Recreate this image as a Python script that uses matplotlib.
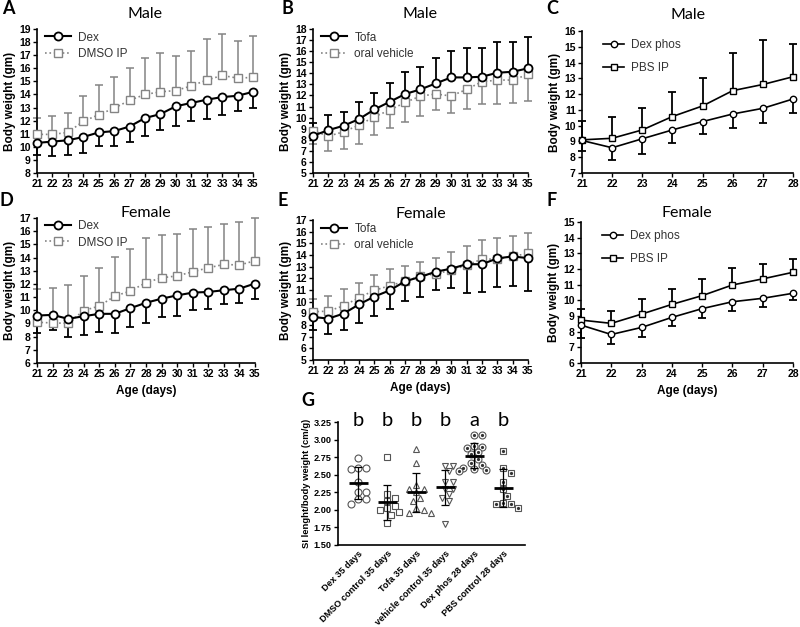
import numpy as np
import matplotlib.pyplot as plt

plt.rcParams['font.family'] = ['Liberation Sans', 'DejaVu Sans']

# ======= Data =======

days_35 = np.arange(21, 36)
days_28 = np.arange(21, 29)

# A: male, Dex vs DMSO IP
a_dex = [10.3, 10.4, 10.5, 10.75, 11.1, 11.2, 11.55, 12.2, 12.5, 13.1, 13.35, 13.6, 13.8, 13.9, 14.2]
a_dex_sd = [0.9, 1.1, 1.1, 1.25, 1.05, 1.1, 1.2, 1.35, 1.25, 1.5, 1.4, 1.45, 1.4, 1.2, 1.25]
a_dmso = [10.95, 10.95, 11.1, 11.95, 12.45, 12.95, 13.55, 14.0, 14.2, 14.3, 14.65, 15.1, 15.45, 15.25, 15.3]
a_dmso_sd = [1.25, 1.4, 1.5, 1.9, 2.25, 2.35, 2.5, 2.75, 2.95, 2.6, 2.7, 3.1, 3.15, 2.8, 3.2]

# B: male, Tofa vs oral vehicle
b_tofa = [8.36, 8.87, 9.27, 9.87, 10.74, 11.43, 12.13, 12.55, 13.09, 13.63, 13.63, 13.69, 14.05, 14.14, 14.45]
b_tofa_sd = [1.12, 1.36, 1.26, 1.56, 1.51, 1.66, 2.01, 2.05, 2.26, 2.41, 2.68, 2.62, 2.81, 2.72, 2.8]
b_veh = [8.81, 8.33, 8.72, 9.33, 10.08, 10.68, 11.37, 11.95, 12.13, 11.95, 12.55, 13.24, 13.39, 13.39, 13.9]
b_veh_sd = [1.23, 1.33, 1.59, 1.72, 1.66, 1.66, 1.74, 1.78, 1.45, 1.57, 1.81, 2.02, 2.17, 2.11, 2.41]

# C: male, Dex phos vs PBS IP
c_dexp = [9.06, 8.6, 9.17, 9.73, 10.26, 10.74, 11.1, 11.69]
c_dexp_sd = [0.69, 0.8, 0.95, 0.8, 0.78, 0.9, 0.95, 0.9]
c_pbs = [9.1, 9.2, 9.73, 10.58, 11.25, 12.22, 12.61, 13.1]
c_pbs_sd = [1.22, 1.38, 1.37, 1.53, 1.74, 2.41, 2.8, 2.1]

# D: female, Dex vs DMSO IP
d_dex = [9.6, 9.65, 9.35, 9.55, 9.73, 9.73, 10.16, 10.57, 10.88, 11.13, 11.34, 11.39, 11.52, 11.64, 12.03]
d_dex_sd = [1.32, 1.12, 1.35, 1.4, 1.4, 1.48, 1.45, 1.53, 1.41, 1.53, 1.3, 1.28, 1.08, 1.09, 1.15]
d_dmso = [9.09, 9.04, 9.01, 9.98, 10.32, 11.08, 11.46, 12.1, 12.46, 12.61, 12.92, 13.22, 13.48, 13.43, 13.76]
d_dmso_sd = [2.5, 2.66, 2.89, 2.63, 2.9, 2.99, 3.17, 3.37, 3.26, 3.17, 3.26, 3.09, 3.06, 3.26, 3.24]

# E: female, Tofa vs oral vehicle
e_tofa = [8.69, 8.55, 8.98, 9.77, 10.44, 10.97, 11.75, 12.13, 12.57, 12.83, 13.21, 13.21, 13.71, 13.88, 13.73]
e_tofa_sd = [1.08, 1.32, 1.4, 1.6, 1.69, 1.64, 1.66, 1.75, 1.55, 1.66, 2.48, 2.39, 2.48, 2.57, 2.85]
e_veh = [9.13, 9.19, 9.65, 10.35, 10.97, 11.37, 11.75, 12.19, 12.39, 12.69, 13.12, 13.65, 13.65, 13.88, 14.14]
e_veh_sd = [1.11, 1.31, 1.43, 1.26, 1.28, 1.46, 1.31, 1.22, 1.34, 1.6, 1.61, 1.66, 1.8, 1.75, 1.75]

# F: female, Dex phos vs PBS IP
f_dexp = [8.42, 7.82, 8.27, 8.91, 9.47, 9.91, 10.13, 10.45]
f_dexp_sd = [0.82, 0.58, 0.6, 0.56, 0.62, 0.59, 0.53, 0.43]
f_pbs = [8.74, 8.53, 9.12, 9.74, 10.3, 10.98, 11.37, 11.79]
f_pbs_sd = [0.68, 0.81, 0.97, 0.99, 1.05, 1.07, 0.96, 0.86]

# G: SI length / body weight
g_groups = ["Dex 35 days", "DMSO control 35 days", "Tofa 35 days",
            "vehicle control 35 days", "Dex phos 28 days", "PBS control 28 days"]
g_letters = ["b", "b", "b", "b", "a", "b"]
g_dex = [2.74, 2.60, 2.59, 2.58, 2.40, 2.26, 2.25, 2.16, 2.15, 2.09]
g_dmso = [2.75, 2.22, 2.17, 2.12, 2.05, 2.02, 2.00, 1.97, 1.93, 1.82]
g_tofa = [2.86, 2.67, 2.35, 2.30, 2.29, 2.25, 2.17, 2.13, 2.03, 2.00, 1.96, 1.96]
g_veh = [2.63, 2.63, 2.55, 2.40, 2.40, 2.30, 2.30, 2.22, 2.17, 2.12, 1.80]
g_dexp = [3.07, 3.07, 2.91, 2.90, 2.88, 2.82, 2.79, 2.72, 2.67, 2.64, 2.60, 2.58, 2.56, 2.55]
g_pbs = [2.84, 2.60, 2.53, 2.40, 2.29, 2.20, 2.10, 2.09, 2.08, 2.02]

# ======= Layout helpers =======

W, H = 800, 627
fig = plt.figure(figsize=(8, 6.27), dpi=100)


def box(left, top, right, bottom):
    return [left / W, 1 - bottom / H, (right - left) / W, (bottom - top) / H]


def ftext(x, y, s, **kw):
    fig.text(x / W, 1 - y / H, s, **kw)


BLACK = 'black'
GREY = '#848484'

big_black_o = dict(color=BLACK, ls='-', lw=1.5, marker='o', ms=5.8, mfc='white', mew=1.3)
big_grey_s = dict(color=GREY, ls=':', lw=1.2, marker='s', ms=5.3, mfc='white', mew=1.0)
small_black_o = dict(color=BLACK, ls='-', lw=1.2, marker='o', ms=4.6, mfc='white', mew=1.0)
small_black_s = dict(color=BLACK, ls='-', lw=1.2, marker='s', ms=4.6, mfc='white', mew=1.0)


def sd_bars(ax, x, y, sd, side, color, lw):
    sd = np.asarray(sd)
    zero = np.zeros_like(sd)
    lo, hi = (sd, zero) if side == 'down' else (zero, sd)
    eb = ax.errorbar(x, y, yerr=[lo, hi], fmt='none', ecolor=color,
                     elinewidth=lw, capsize=2.8, capthick=lw, zorder=2)
    eb[1][1 if side == 'down' else 0].set_visible(False)
    for c in list(eb[1]) + list(eb[2]):
        c.set_clip_on(False)


def style_axes(ax, fs=7.5):
    for s in ['top', 'right']:
        ax.spines[s].set_visible(False)
    for s in ['left', 'bottom']:
        ax.spines[s].set_linewidth(1.2)
    ax.tick_params(direction='out', length=3, width=1, labelsize=fs, pad=1.5)
    for lab in ax.get_xticklabels() + ax.get_yticklabels():
        lab.set_fontweight('bold')


def weight_panel(rect, x, s1, s2, labels, styles, sides, ylim, title, legend_kw):
    ax = fig.add_axes(box(*rect))
    (y1, sd1), (y2, sd2) = s1, s2
    st1, st2 = styles
    sd_bars(ax, x, y1, sd1, sides[0], st1['color'], 1.3 if st1['color'] == BLACK else 1.1)
    sd_bars(ax, x, y2, sd2, sides[1], st2['color'], 1.3 if st2['color'] == BLACK else 1.1)
    ax.plot(x, y2, label=labels[1], zorder=3, clip_on=False, **st2)
    ax.plot(x, y1, label=labels[0], zorder=4, clip_on=False, **st1)
    ax.set_xlim(x[0], x[-1])
    ax.set_ylim(*ylim)
    ax.set_xticks(x)
    ax.set_yticks(np.arange(ylim[0], ylim[1] + 1))
    ax.set_ylabel("Body weight (gm)", fontsize=8.5, fontweight='bold', labelpad=2)
    style_axes(ax)
    h, l = ax.get_legend_handles_labels()
    leg = ax.legend(h[::-1], l[::-1], frameon=False, fontsize=8.5, borderpad=0.2,
                    handletextpad=0.6, **legend_kw)
    for t in leg.get_texts():
        t.set_color('#333333')
    cx = (rect[0] + rect[2]) / 2
    ftext(cx, title[1], title[0], fontsize=11.5, family=['Lato', 'DejaVu Sans'],
          ha='center', va='center')
    return ax


leg_top = dict(loc='upper left', bbox_to_anchor=(0.0, 1.04), handlelength=2.2, labelspacing=0.35)
leg_c = dict(loc='upper left', bbox_to_anchor=(0.06, 1.0), handlelength=1.8, labelspacing=0.95)

# A
weight_panel((37, 29, 253, 173), days_35, (a_dex, a_dex_sd), (a_dmso, a_dmso_sd),
             ("Dex", "DMSO IP"), (big_black_o, big_grey_s), ('down', 'up'),
             (8, 19), ("Male", 14), leg_top)
# B
weight_panel((313, 29, 528, 173), days_35, (b_tofa, b_tofa_sd), (b_veh, b_veh_sd),
             ("Tofa", "oral vehicle"), (big_black_o, big_grey_s), ('up', 'down'),
             (5, 18), ("Male", 14), leg_top)
# C
weight_panel((582, 31, 793, 173), days_28, (c_dexp, c_dexp_sd), (c_pbs, c_pbs_sd),
             ("Dex phos", "PBS IP"), (small_black_o, small_black_s), ('down', 'up'),
             (7, 16), ("Male", 15), leg_c)
# D
ax_d = weight_panel((37, 218, 255, 363), days_35, (d_dex, d_dex_sd), (d_dmso, d_dmso_sd),
                    ("Dex", "DMSO IP"), (big_black_o, big_grey_s), ('down', 'up'),
                    (6, 17), ("Female", 213), leg_top)
# E
ax_e = weight_panel((313, 220, 528, 360), days_35, (e_tofa, e_tofa_sd), (e_veh, e_veh_sd),
                    ("Tofa", "oral vehicle"), (big_black_o, big_grey_s), ('down', 'up'),
                    (5, 17), ("Female", 214), leg_top)
# F
ax_f = weight_panel((581, 222, 793, 363), days_28, (f_dexp, f_dexp_sd), (f_pbs, f_pbs_sd),
                    ("Dex phos", "PBS IP"), (small_black_o, small_black_s), ('down', 'up'),
                    (6, 15), ("Female", 213), leg_c)
for ax in (ax_d, ax_e, ax_f):
    ax.set_xlabel("Age (days)", fontsize=8.5, fontweight='bold', labelpad=4)

# ======= G: scatter with mean and SD =======

axg = fig.add_axes(box(338, 422, 525, 545))
axg.set_xlim(-0.7, 5.75)
axg.set_ylim(1.5, 3.25)
g_sets = [g_dex, g_dmso, g_tofa, g_veh, g_dexp, g_pbs]
g_marks = [('o', False), ('s', False), ('^', False), ('v', False), ('o', True), ('s', True)]


def swarm_x(ax, xc, vals, d):
    # place points side by side where they would overlap, nearest to the centre first
    pts = ax.transData.transform(np.column_stack([np.full(len(vals), xc), vals]))
    placed = []
    for px, py in pts:
        for k in [0, 1, -1, 2, -2, 3, -3, 4, -4]:
            cx = px + k * d * 0.5
            if all((cx - qx) ** 2 + (py - qy) ** 2 >= (0.85 * d) ** 2 for qx, qy in placed):
                break
        placed.append((cx, py))
    return ax.transData.inverted().transform(np.array(placed))[:, 0]


for i, (vals, (mk, dot)) in enumerate(zip(g_sets, g_marks)):
    vals = np.asarray(vals)
    xs = swarm_x(axg, i, vals, 7.5)
    axg.plot(xs, vals, ls='none', marker=mk, ms=5, mfc='white', mec='#555555', mew=0.8, zorder=2)
    if dot:
        axg.plot(xs, vals, ls='none', marker='o', ms=1.3, color='#333333', zorder=2.5)
    m, s = vals.mean(), vals.std(ddof=1)
    axg.hlines(m, i - 0.33, i + 0.33, color=BLACK, lw=2.0, zorder=3)
    axg.errorbar(i, m, yerr=s, fmt='none', ecolor=BLACK, elinewidth=0.9, capsize=3.2,
                 capthick=0.9, zorder=3)
    axg.text(i, 3.265, g_letters[i], ha='center', va='center', fontsize=14.5,
             family=['Lato', 'DejaVu Sans'])

axg.set_yticks(np.arange(1.5, 3.26, 0.25))
axg.set_yticklabels([f"{v:.2f}" for v in np.arange(1.5, 3.26, 0.25)])
axg.set_xticks(range(len(g_groups)))
axg.set_xticklabels(g_groups, rotation=45, ha='right', rotation_mode='anchor')
axg.set_ylabel("SI lenght/body weight (cm/g)", fontsize=6.8, fontweight='bold', labelpad=2)
style_axes(axg, fs=6.6)
axg.tick_params(axis='x', length=0, pad=3)

# ======= Panel letters =======

for letter, (px, py) in zip("ABCDEFG", [(8, 9), (287, 9), (552, 9), (6, 201), (283, 201),
                                       (552, 201), (308, 400)]):
    ftext(px, py, letter, fontsize=13, fontweight='bold', family=['Lato', 'DejaVu Sans'],
          ha='center', va='center')

fig.savefig("out.png", dpi=100)
